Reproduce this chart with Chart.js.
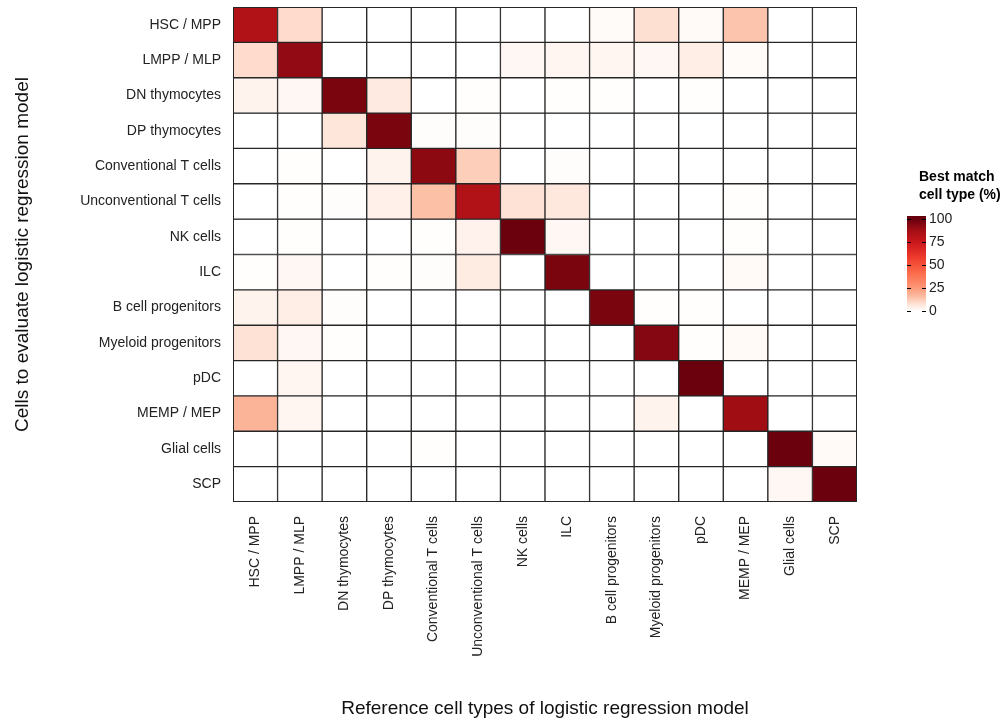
<!DOCTYPE html>
<html>
<head>
<meta charset="utf-8">
<script src="https://cdn.jsdelivr.net/npm/chart.js@4/dist/chart.umd.min.js"></script>
<style>
  html, body { margin: 0; padding: 0; background: #fff; }
  #wrap { width: 1004px; height: 724px; }
</style>
</head>
<body>
<div id="wrap"><canvas id="c" width="1004" height="724"></canvas></div>
<script>
// reference cell types (columns) and evaluated cells (rows)
var refTypes = ["HSC / MPP", "LMPP / MLP", "DN thymocytes", "DP thymocytes", "Conventional T cells",
  "Unconventional T cells", "NK cells", "ILC", "B cell progenitors", "Myeloid progenitors",
  "pDC", "MEMP / MEP", "Glial cells", "SCP"];
var evalCells = refTypes.slice();

// percent of cells matched, one array per evaluated row
var hscMpp      = [83, 9, 0, 0, 0, 0, 0, 0, 1, 8, 1.5, 14, 0, 0];
var lmppMlp     = [9, 91, 0, 0, 0, 0, 2, 2.5, 2.5, 2, 4.5, 1, 0, 0];
var dnThymo     = [3, 2, 96, 5.5, 0, 0.3, 0, 0.3, 0.3, 0, 0.3, 0, 0, 0];
var dpThymo     = [0, 0, 6.5, 96, 0.5, 0.5, 0, 0, 0, 0, 0, 0, 0, 0];
var convT       = [0, 0.3, 0, 3, 92, 12, 0, 0.5, 0, 0, 0, 0, 0, 0];
var unconvT     = [0, 0.3, 0.5, 4, 15, 83, 7.5, 6, 0, 0, 0, 0.3, 0, 0];
var nkCells     = [0, 0.3, 0, 0, 0.3, 3.5, 99, 2, 0, 0, 0, 0.3, 0, 0];
var ilc         = [0.3, 2, 0, 0.3, 0.5, 5, 0, 96, 0, 0, 0, 1.5, 0, 0];
var bProg       = [3, 4.5, 0.5, 0, 0, 0, 0, 0, 96, 0.3, 0.3, 0, 0, 0];
var myeloidProg = [7.5, 2, 0.3, 0, 0, 0, 0, 0, 0, 94, 0.3, 1.5, 0, 0];
var pdc         = [0, 2.5, 0, 0, 0, 0, 0, 0, 0, 0, 99, 0, 0, 0];
var memp        = [18, 2.5, 0, 0, 0, 0, 0, 0, 0, 3, 0, 88, 0, 0];
var glial       = [0, 0, 0, 0, 0.3, 0, 0, 0, 0, 0, 0, 0, 99, 1.5];
var scp         = [0, 0, 0, 0, 0, 0, 0, 0, 0, 0, 0, 0, 2, 99];
var matchRows = [hscMpp, lmppMlp, dnThymo, dpThymo, convT, unconvT, nkCells, ilc,
  bProg, myeloidProg, pdc, memp, glial, scp];

var legendTicks = [0, 25, 50, 75, 100];

// colour scale (Reds, white at 0)
var stops = [
  [0, [255, 255, 255]], [8, [254, 224, 210]], [16, [252, 187, 161]], [27, [252, 146, 114]],
  [42, [251, 106, 74]], [58, [239, 59, 44]], [74, [203, 24, 29]], [87, [165, 15, 21]],
  [100, [103, 0, 13]]
];
function fillFor(v) {
  for (var i = 1; i < stops.length; i++) {
    if (v <= stops[i][0]) {
      var a = stops[i - 1], b = stops[i];
      var t = (v - a[0]) / (b[0] - a[0]);
      var c = a[1].map(function(x, k) { return Math.round(x + (b[1][k] - x) * t); });
      return 'rgb(' + c.join(',') + ')';
    }
  }
  return 'rgb(103,0,13)';
}

var FONT = "'Liberation Sans', Arial, sans-serif";

var datasets = matchRows.map(function(row, r) {
  return {
    label: evalCells[r],
    data: row.map(function() { return [r, r + 1]; }),
    backgroundColor: row.map(fillFor),
    borderColor: '#262626',
    borderWidth: 1,
    borderSkipped: false,
    grouped: false,
    barPercentage: 1,
    categoryPercentage: 1
  };
});

var frame = {
  id: 'frame',
  afterDatasetsDraw: function(chart) {
    var a = chart.chartArea, ctx = chart.ctx;
    ctx.save();
    ctx.strokeStyle = '#262626';
    ctx.lineWidth = 1;
    ctx.strokeRect(a.left + 0.5, a.top + 0.5, a.right - a.left - 1, a.bottom - a.top - 1);
    ctx.restore();
  }
};

var colorbar = {
  id: 'colorbar',
  afterDraw: function(chart) {
    var ctx = chart.ctx;
    var x = 907, w = 19, y0 = 311, y1 = 219; // 0 and 100 positions
    var top = 216, bottom = 313;
    ctx.save();
    var g = ctx.createLinearGradient(0, y0, 0, y1);
    stops.forEach(function(s) { g.addColorStop(s[0] / 100, 'rgb(' + s[1].join(',') + ')'); });
    ctx.fillStyle = g;
    ctx.fillRect(x, top, w, bottom - top);
    ctx.strokeStyle = '#000';
    ctx.lineWidth = 1;
    ctx.font = '14px ' + FONT;
    ctx.textBaseline = 'middle';
    ctx.textAlign = 'left';
    legendTicks.forEach(function(t) {
      var y = Math.round(y0 + (y1 - y0) * t / 100) + 0.5;
      ctx.beginPath();
      ctx.moveTo(x, y); ctx.lineTo(x + 4, y);
      ctx.moveTo(x + w - 4, y); ctx.lineTo(x + w, y);
      ctx.stroke();
      ctx.fillStyle = '#222';
      ctx.fillText(String(t), x + w + 3, y);
    });
    ctx.fillStyle = '#000';
    ctx.font = 'bold 14px ' + FONT;
    ctx.fillText('Best match', 919, 177);
    ctx.fillText('cell type (%)', 919, 195);
    ctx.restore();
  }
};

new Chart(document.getElementById('c'), {
  type: 'bar',
  data: { labels: refTypes, datasets: datasets },
  options: {
    responsive: false,
    animation: false,
    events: [],
    layout: { padding: { left: 0, right: 147, top: 7, bottom: 0 } },
    plugins: { legend: { display: false }, tooltip: { enabled: false } },
    scales: {
      x: {
        grid: { display: false, drawTicks: false },
        border: { display: false },
        afterFit: function(s) { s.height = 222; s.paddingLeft = 0; s.paddingRight = 0; },
        ticks: {
          autoSkip: false, minRotation: 90, maxRotation: 90, padding: 14,
          color: '#222', font: { family: FONT, size: 14 }
        },
        title: {
          display: true, text: 'Reference cell types of logistic regression model',
          color: '#111', font: { family: FONT, size: 19 }, padding: { top: 0, bottom: 4 }
        }
      },
      y: {
        min: 0, max: 14, reverse: true,
        grid: { display: false, drawTicks: false },
        border: { display: false },
        afterFit: function(s) { s.width = 233; s.paddingTop = 0; s.paddingBottom = 0; },
        afterBuildTicks: function(s) {
          s.ticks = evalCells.map(function(_, i) { return { value: i + 0.5 }; });
        },
        ticks: {
          padding: 12, color: '#222', font: { family: FONT, size: 14 },
          callback: function(v) { return evalCells[Math.floor(v)]; }
        },
        title: {
          display: true, text: 'Cells to evaluate logistic regression model',
          color: '#111', font: { family: FONT, size: 19 }, padding: { top: 11, bottom: 0 }
        }
      }
    }
  },
  plugins: [frame, colorbar]
});
</script>
</body>
</html>
